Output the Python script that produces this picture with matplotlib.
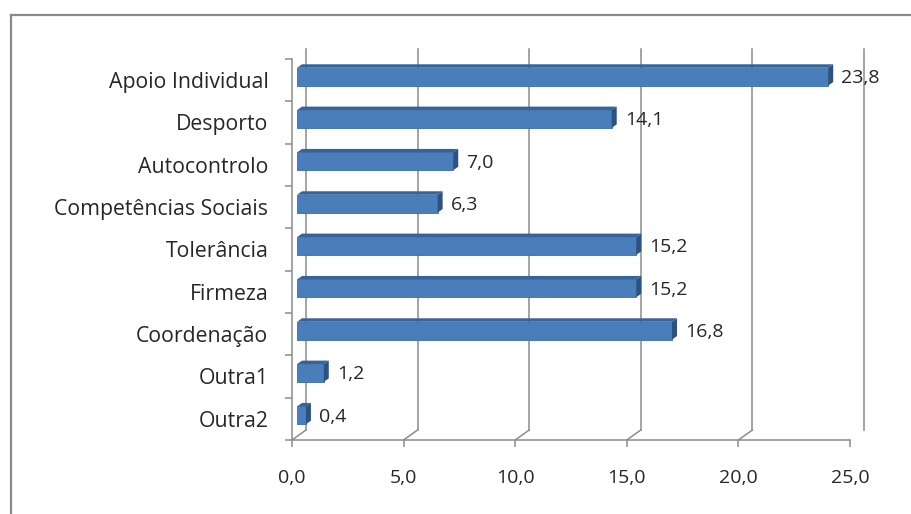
import matplotlib
matplotlib.use("Agg")
import matplotlib.pyplot as plt
import matplotlib.transforms as mtransforms
from matplotlib.patches import Polygon
from matplotlib.lines import Line2D

categories = [
    "Apoio Individual",
    "Desporto",
    "Autocontrolo",
    "Competências Sociais",
    "Tolerância",
    "Firmeza",
    "Coordenação",
    "Outra1",
    "Outra2",
]
values = [23.8, 14.1, 7.0, 6.3, 15.2, 15.2, 16.8, 1.2, 0.4]
xticks = [0, 5, 10, 15, 20, 25]

plt.rcParams["font.family"] = ["Open Sans", "DejaVu Sans"]

W, H = 912, 514
fig = plt.figure(figsize=(W / 100, H / 100), dpi=100)

# front plane of the fake 3d box, in pixels
x0_px, x1_px = 292, 850
top_px, bot_px = 59, 440
ax = fig.add_axes([x0_px / W, 1 - bot_px / H, (x1_px - x0_px) / W, (bot_px - top_px) / H])
n = len(categories)
ax.set_xlim(0, 25)
ax.set_ylim(n - 0.5, -0.5)
for s in ax.spines.values():
    s.set_visible(False)
ax.patch.set_visible(False)

grid_c = "#8c8c8c"
lw = 1.1
txt_c = "#262626"


def off(dx, dy):
    return mtransforms.offset_copy(ax.transData, fig, x=dx, y=dy, units="dots")


back = off(14, 10)
ybot, ytop = n - 0.5, -0.5

# back wall gridlines and floor slants
for xv in xticks:
    ax.plot([xv, xv], [ybot, ytop], color=grid_c, lw=lw, transform=back, clip_on=False)
    xp = x0_px + xv * (x1_px - x0_px) / 25
    ax.add_line(Line2D([xp, xp + 14], [H - bot_px, H - bot_px + 10],
                       color=grid_c, lw=lw, transform=None))

# left wall
ax.plot([0, 0], [ybot, ytop], color=grid_c, lw=lw, clip_on=False)
ax.add_line(Line2D([x0_px, x0_px + 14], [H - top_px, H - top_px + 10],
                   color=grid_c, lw=lw, transform=None))
# front x axis
ax.plot([0, 25], [ybot, ybot], color=grid_c, lw=lw, clip_on=False)

# bars
face_c = "#4a7ebb"
top_c = "#35639a"
side_c = "#2c5282"
bh = 0.42
fdx, fdy = 5, 3.5
ddx, ddy = 5, 3.5
for i, v in enumerate(values):
    # front face
    ax.add_patch(Polygon([(0, i - bh / 2), (v, i - bh / 2), (v, i + bh / 2), (0, i + bh / 2)],
                         closed=True, facecolor=face_c, edgecolor="#3d6ea8", lw=0.6,
                         transform=off(fdx, fdy), clip_on=False, zorder=3))
    # top face and side face, built in pixel space
    p_tl = ax.transData.transform((0, i - bh / 2)) + (fdx, fdy)
    p_tr = ax.transData.transform((v, i - bh / 2)) + (fdx, fdy)
    p_br = ax.transData.transform((v, i + bh / 2)) + (fdx, fdy)
    d = (ddx, ddy)
    ax.add_patch(Polygon([p_tl, p_tr, p_tr + d, p_tl + d], closed=True, facecolor=top_c,
                         edgecolor="none", transform=None, zorder=3))
    ax.add_patch(Polygon([p_tr, p_br, p_br + d, p_tr + d], closed=True, facecolor=side_c,
                         edgecolor="none", transform=None, zorder=3))
    ax.text(v, i, f"{v:.1f}".replace(".", ","), transform=off(18, 2), ha="left",
            va="center", fontsize=14, color=txt_c, zorder=4)

# ticks
ax.set_xticks(xticks)
ax.set_xticklabels([f"{t:.1f}".replace(".", ",") for t in xticks], fontsize=14, color=txt_c)
ax.tick_params(axis="x", length=5, width=lw, color=grid_c, pad=16)
ax.set_yticks(range(n))
ax.set_yticklabels(categories, fontsize=15.3, color=txt_c)
ax.set_yticks([k - 0.5 for k in range(n + 1)], minor=True)
ax.tick_params(axis="y", which="major", length=0, pad=17)
ax.tick_params(axis="y", which="minor", length=5, width=lw, color=grid_c)

# outer chart frame
frame_c = "#8a8a8a"
fig.add_artist(Line2D([10.5, 10.5], [-5, H - 15], color=frame_c, lw=1.6, transform=None))
fig.add_artist(Line2D([10.5, W + 5], [H - 15, H - 15], color=frame_c, lw=1.6, transform=None))

fig.savefig("out.png", dpi=100)
